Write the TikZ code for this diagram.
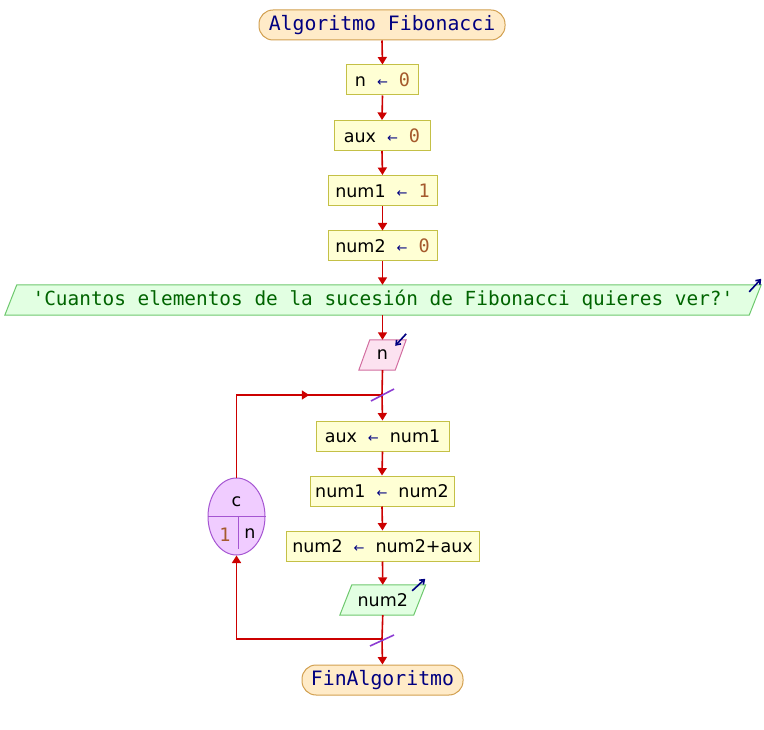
\documentclass[tikz,border=0pt]{standalone}
\usepackage{fontspec}
\setmainfont{DejaVu Sans}
\setmonofont{DejaVu Sans Mono}
\usetikzlibrary{arrows.meta,backgrounds,shapes.geometric,calc}
\definecolor{boxfill}{RGB}{255,255,212}
\definecolor{boxborder}{RGB}{196,192,70}
\definecolor{termfill}{RGB}{255,235,200}
\definecolor{termborder}{RGB}{210,160,80}
\definecolor{outfill}{RGB}{226,255,226}
\definecolor{outborder}{RGB}{110,200,110}
\definecolor{infill}{RGB}{252,226,240}
\definecolor{inborder}{RGB}{210,110,160}
\definecolor{ellfill}{RGB}{240,204,255}
\definecolor{ellborder}{RGB}{165,85,210}
\definecolor{flowred}{RGB}{204,0,0}
\definecolor{slashpurple}{RGB}{140,60,210}
\definecolor{navy}{RGB}{0,0,128}
\definecolor{numbrown}{RGB}{165,90,45}
\definecolor{strgreen}{RGB}{0,100,0}
\newcommand{\asg}{\hspace{11pt}{\color{navy}\fontsize{13}{13}\selectfont ←}\hspace{11pt}}
\newcommand{\num}[1]{{\ttfamily\color{numbrown}\fontsize{18.5}{20}\selectfont #1}}
\begin{document}
\begin{tikzpicture}[x=1pt,y=-1pt,
  procbox/.style={draw=boxborder, fill=boxfill, line width=1pt, minimum height=30pt, inner sep=0pt, font=\fontsize{17.5}{20}\selectfont},
  term/.style={draw=termborder, fill=termfill, line width=1pt, rounded corners=14pt, minimum height=30pt, inner sep=0pt, font=\ttfamily\fontsize{19.8}{22}\selectfont, text=navy},
  ionode/.style={inner sep=0pt, minimum height=30pt, font=\fontsize{17.5}{20}\selectfont},
  outshape/.style={draw=outborder, fill=outfill, line width=1pt},
  inshape/.style={draw=inborder, fill=infill, line width=1pt},
  flowline/.style={draw=flowred, line width=1.6pt},
  flow/.style={flowline, -{Triangle[length=7.5pt,width=9pt]}},
  slash/.style={draw=slashpurple, line width=1.6pt},
  icon/.style={draw=navy, line width=1.6pt, -{Straight Barb[length=4pt,width=6pt]}}
]
\useasboundingbox (0,0) rectangle (764,730);

\node[term, minimum width=246] (start) at (382,25) {Algoritmo Fibonacci};
\node[procbox, minimum width=72] (n0) at (382.5,80) {n\asg\num{0}};
\node[procbox, minimum width=96] (aux0) at (382,135.5) {aux\asg\num{0}};
\node[procbox, minimum width=109] (num10) at (382.5,190.5) {num1\asg\num{1}};
\node[procbox, minimum width=109] (num20) at (382.5,246) {num2\asg\num{0}};
\node[ionode, minimum width=744, font=\ttfamily\fontsize{19.4}{22}\selectfont, text=strgreen] (msg) at (383,300) {'Cuantos elementos de la sucesión de Fibonacci quieres ver?'};
\node[ionode, minimum width=36] (nin) at (382.5,355) {n};
\node[procbox, minimum width=133] (a1) at (382.5,436) {aux\asg num1};
\node[procbox, minimum width=144] (b1) at (382,491) {num1\asg num2};
\node[procbox, minimum width=193] (c1) at (382.5,546) {num2\asg num2+aux};
\node[ionode, minimum width=73.5] (o2) at (382.75,600) {num2};
\node[term, minimum width=161] (fin) at (382.5,680) {FinAlgoritmo};

\node[ellipse, draw=ellborder, fill=ellfill, line width=1pt, minimum width=57, minimum height=77, inner sep=0pt] (loop) at (236.5,516.5) {};
\draw[ellborder, line width=1pt] (loop.west) -- (loop.east);
\draw[ellborder, line width=1pt] ([xshift=1.5pt]loop.center) -- ++(0,32);
\node[font=\fontsize{17.5}{20}\selectfont] (lc) at (236.5,502) {c};
\node[font=\ttfamily\fontsize{18.5}{20}\selectfont, text=numbrown] (l1) at (225,535) {1};
\node[font=\fontsize{17.5}{20}\selectfont] (ln) at (250,534) {n};

\begin{scope}[on background layer]
\draw[outshape] ([xshift=-6pt]msg.south west) -- ([xshift=6pt]msg.north west) -- ([xshift=6pt]msg.north east) -- ([xshift=-6pt]msg.south east) -- cycle;
\draw[inshape] ([xshift=-5.5pt]nin.south west) -- ([xshift=5.5pt]nin.north west) -- ([xshift=5.5pt]nin.north east) -- ([xshift=-5.5pt]nin.south east) -- cycle;
\draw[outshape] ([xshift=-6pt]o2.south west) -- ([xshift=6pt]o2.north west) -- ([xshift=6pt]o2.north east) -- ([xshift=-6pt]o2.south east) -- cycle;
\end{scope}

\coordinate (jtop) at (382,395);
\coordinate (jbot) at (382,639);
\coordinate (lt) at (236.5,395);

\draw[flow] (start.south) -- (n0.north);
\draw[flow] (n0.south) -- (aux0.north);
\draw[flow] (aux0.south) -- (num10.north);
\draw[flow] (num10.south) -- (num20.north);
\draw[flow] (num20.south) -- (msg.north -| num20.south);
\draw[flow] (msg.south -| nin.north) -- (nin.north);
\draw[flowline] (nin.south) -- (jtop);
\draw[flow] (jtop) -- (a1.north);
\draw[flow] (a1.south) -- (b1.north);
\draw[flow] (b1.south) -- (c1.north);
\draw[flow] (c1.south) -- (o2.north);
\draw[flowline] (o2.south) -- (jbot);
\draw[flow] (jbot) -- (fin.north);
\draw[flowline] (loop.north) |- (jtop);
\draw[flow] (lt) -- ($(lt)!0.5!(jtop)$);
\draw[flow] (jbot) -| (loop.south);

\draw[slash] ([shift={(-11,6)}]jtop) -- ([shift={(12,-6)}]jtop);
\draw[slash] ([shift={(-12,7)}]jbot) -- ([shift={(12,-4)}]jbot);

\draw[icon] ([shift={(-6,7)}]msg.north east) -- ([shift={(6,-6)}]msg.north east);
\draw[icon] ([shift={(5.5,-6)}]nin.north east) -- ([shift={(-5.5,6)}]nin.north east);
\draw[icon] ([shift={(-7.5,6)}]o2.north east) -- ([shift={(5.5,-6)}]o2.north east);
\end{tikzpicture}
\end{document}
